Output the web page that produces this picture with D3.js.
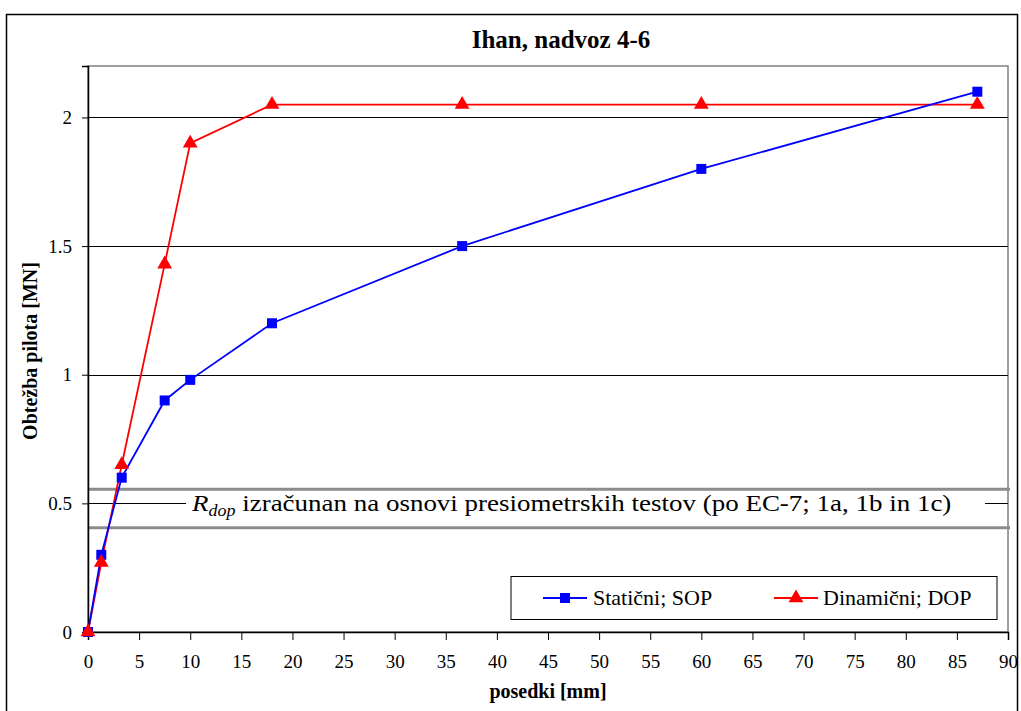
<!DOCTYPE html>
<html>
<head>
<meta charset="utf-8">
<script src="https://cdn.jsdelivr.net/npm/d3@7"></script>
<style>
  html, body { margin: 0; padding: 0; background: #fff; }
  svg { display: block; font-family: "Liberation Serif", "Times New Roman", serif; }
</style>
</head>
<body>
<svg id="chart" width="1021" height="711"></svg>
<script>
// Settlement [mm] vs. pile load [MN]
const staticSettlement = [0, 1.3, 3.3, 7.5, 10.0, 18.0, 36.6, 60.0, 87.0];
const staticLoad       = [0, 0.30, 0.60, 0.90, 0.98, 1.20, 1.50, 1.80, 2.10];
const dynamicSettlement = [0, 1.3, 3.3, 7.5, 10.0, 18.0, 36.6, 60.0, 87.0];
const dynamicLoad       = [0, 0.27, 0.65, 1.43, 1.90, 2.05, 2.05, 2.05, 2.05];
const xTicks = d3.range(0, 91, 5);
const yTicks = [0, 0.5, 1, 1.5, 2];
const rdopBand = [0.405, 0.555];
const seriesNames = ["Statični; SOP", "Dinamični; DOP"];
const titleText = "Ihan, nadvoz 4-6";
const xLabel = "posedki [mm]";
const yLabel = "Obtežba pilota [MN]";

const FONT = "Liberation Serif";
const svg = d3.select("#chart");
const plot = { left: 88, right: 1008, top: 66, bottom: 632 };

const x = d3.scaleLinear().domain([0, 90]).range([plot.left, plot.right]);
const y = d3.scaleLinear().domain([0, 2.2]).range([plot.bottom, plot.top]);

// outer chart frame
svg.append("rect").attr("x", 6.5).attr("y", 14.5).attr("width", 1011).attr("height", 710)
  .attr("fill", "#fff").attr("stroke", "#000").attr("stroke-width", 1.5);

// plot area frame
svg.append("rect").attr("x", plot.left).attr("y", plot.top)
  .attr("width", plot.right - plot.left).attr("height", plot.bottom - plot.top)
  .attr("fill", "#fff").attr("stroke", "#808080").attr("stroke-width", 1.5);

// horizontal gridlines
svg.append("g").selectAll("line").data(yTicks.filter(d => d > 0)).join("line")
  .attr("x1", plot.left).attr("x2", plot.right)
  .attr("y1", d => Math.round(y(d)) + 0.5).attr("y2", d => Math.round(y(d)) + 0.5)
  .attr("stroke", "#000").attr("stroke-width", 1);

// allowable resistance band with its caption
svg.append("g").selectAll("line").data(rdopBand).join("line")
  .attr("x1", plot.left).attr("x2", plot.right + 2)
  .attr("y1", d => y(d)).attr("y2", d => y(d))
  .attr("stroke", "#8c8c8c").attr("stroke-width", 3);
svg.append("rect").attr("x", 186).attr("y", y(rdopBand[1]) + 2)
  .attr("width", 799).attr("height", y(rdopBand[0]) - y(rdopBand[1]) - 4)
  .attr("fill", "#fff");
const bandText = svg.append("text").attr("font-size", 24).attr("fill", "#000");
bandText.append("tspan").attr("font-style", "italic").text("R");
bandText.append("tspan").attr("font-style", "italic").attr("font-size", 16).attr("dy", 5).text("dop");
bandText.append("tspan").attr("dy", -5).text(" izračunan na osnovi presiometrskih testov (po EC-7; 1a, 1b in 1c)");
// stretch the caption horizontally so it spans the band box
{
  const w = bandText.node().getComputedTextLength();
  const sx = 760 / w;
  bandText.attr("transform", `translate(192,${y(0.5) + 8}) scale(${sx},1)`);
}

// axes
const xAxis = d3.axisBottom(x).tickValues(xTicks).tickSize(8).tickPadding(15).tickFormat(d3.format("d"));
const gx = svg.append("g").attr("transform", `translate(0,${plot.bottom})`).call(xAxis);
gx.select(".domain").attr("stroke", "#000").attr("stroke-width", 1.5);
gx.selectAll(".tick line").attr("stroke", "#000");
gx.selectAll(".tick text").attr("font-size", 19).attr("font-family", FONT).attr("fill", "#000");

const yAxis = d3.axisLeft(y).tickValues(yTicks).tickSize(6).tickPadding(10).tickFormat(d => String(d));
const gy = svg.append("g").attr("transform", `translate(${plot.left},0)`).call(yAxis);
gy.select(".domain").attr("stroke", "#000").attr("stroke-width", 1.5);
gy.selectAll(".tick line").attr("stroke", "#000");
gy.selectAll(".tick text").attr("font-size", 19).attr("font-family", FONT).attr("fill", "#000");

// series
const line = d3.line().x(d => x(d[0])).y(d => y(d[1]));
const staticPts = staticSettlement.map((s, i) => [s, staticLoad[i]]);
const dynamicPts = dynamicSettlement.map((s, i) => [s, dynamicLoad[i]]);

svg.append("path").datum(dynamicPts).attr("d", line)
  .attr("fill", "none").attr("stroke", "#ff0000").attr("stroke-width", 1.8);
svg.append("path").datum(staticPts).attr("d", line)
  .attr("fill", "none").attr("stroke", "#0000ff").attr("stroke-width", 1.8);

const sq = 10, tri = d3.symbol().type(d3.symbolTriangle).size(95);
svg.append("g").selectAll("rect").data(staticPts).join("rect")
  .attr("x", d => x(d[0]) - sq / 2).attr("y", d => y(d[1]) - sq / 2)
  .attr("width", sq).attr("height", sq).attr("fill", "#0000ff");
svg.append("g").selectAll("path").data(dynamicPts).join("path")
  .attr("d", tri).attr("transform", d => `translate(${x(d[0])},${y(d[1])})`)
  .attr("fill", "#ff0000");

// legend
const lg = svg.append("g");
lg.append("rect").attr("x", 511).attr("y", 576.5).attr("width", 486).attr("height", 43)
  .attr("fill", "#fff").attr("stroke", "#000").attr("stroke-width", 1);
lg.append("line").attr("x1", 543).attr("x2", 587).attr("y1", 598).attr("y2", 598)
  .attr("stroke", "#0000ff").attr("stroke-width", 1.8);
lg.append("rect").attr("x", 565 - sq / 2).attr("y", 598 - sq / 2).attr("width", sq).attr("height", sq).attr("fill", "#0000ff");
lg.append("text").attr("x", 593).attr("y", 605).attr("font-size", 22).text(seriesNames[0]);
lg.append("line").attr("x1", 774).attr("x2", 818).attr("y1", 598).attr("y2", 598)
  .attr("stroke", "#ff0000").attr("stroke-width", 1.8);
lg.append("path").attr("d", tri).attr("transform", "translate(796,598)").attr("fill", "#ff0000");
lg.append("text").attr("x", 823).attr("y", 605).attr("font-size", 22).text(seriesNames[1]);

// titles
svg.append("text").attr("x", 561).attr("y", 48).attr("text-anchor", "middle")
  .attr("font-size", 25).attr("font-weight", "bold").text(titleText);
svg.append("text").attr("x", 548).attr("y", 698).attr("text-anchor", "middle")
  .attr("font-size", 20).attr("font-weight", "bold").text(xLabel);
svg.append("text").attr("transform", "translate(37,351) rotate(-90)").attr("text-anchor", "middle")
  .attr("font-size", 20).attr("font-weight", "bold").text(yLabel);
</script>
</body>
</html>
